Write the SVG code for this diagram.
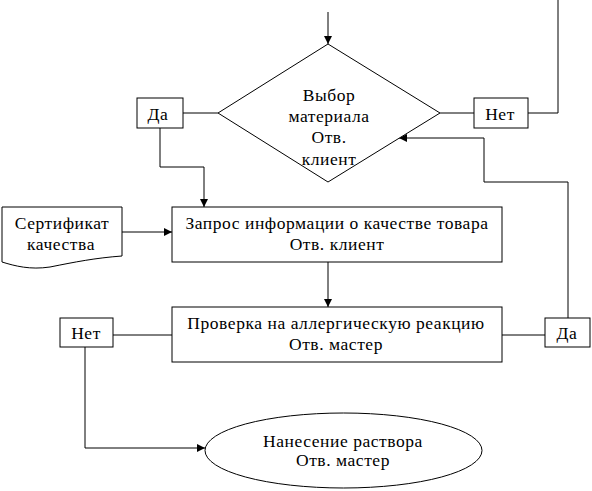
<svg xmlns="http://www.w3.org/2000/svg" width="592" height="491" viewBox="0 0 592 491">
<style>
.s{fill:#fff;stroke:#000;stroke-width:1}
.c{fill:none;stroke:#000;stroke-width:1}
text{font-family:"Liberation Serif","Times New Roman",serif;font-size:17.5px;letter-spacing:0.55px;fill:#000;text-anchor:middle}
</style>
<defs>
<marker id="a" viewBox="0 0 10 10" refX="10" refY="5" markerWidth="8" markerHeight="8" markerUnits="userSpaceOnUse" orient="auto">
<path d="M0,0 L10,5 L0,10 Z" fill="#000"/>
</marker>
</defs>
<rect width="592" height="491" fill="#fff"/>
<g id="connectors">
<path class="c" d="M328,12 V44" marker-end="url(#a)"/>
<path class="c" d="M183,113 H218"/>
<path class="c" d="M440,113 H474"/>
<path class="c" d="M528,113 H558 V0"/>
<path class="c" d="M160,128 V167 H204 V207" marker-end="url(#a)"/>
<path class="c" d="M122,232 H172" marker-end="url(#a)"/>
<path class="c" d="M328,262 V307" marker-end="url(#a)"/>
<path class="c" d="M113,335 H172"/>
<path class="c" d="M502,335 H545"/>
<path class="c" d="M568,318 V182 H484 V138 H399" marker-end="url(#a)"/>
<path class="c" d="M85,347 V448 H205" marker-end="url(#a)"/>
</g>
<g id="decision">
<polygon class="s" points="328,44 440,113 328,182 218,113"/>
<text x="329" y="101">Выбор</text>
<text x="329" y="122">материала</text>
<text x="329" y="143">Отв.</text>
<text x="329" y="165">клиент</text>
</g>
<g id="yes1">
<rect class="s" x="137" y="98" width="46" height="30"/>
<text x="158" y="120">Да</text>
</g>
<g id="no1">
<rect class="s" x="474" y="98" width="54" height="30"/>
<text x="500" y="120">Нет</text>
</g>
<g id="certificate">
<path class="s" d="M2,207 H122 V256 C95,258 75,262 50,267 C30,270 15,266 2,262 Z"/>
<text x="62" y="229">Сертификат</text>
<text x="61" y="250">качества</text>
</g>
<g id="request">
<rect class="s" x="172" y="207" width="330" height="55"/>
<text x="337" y="229">Запрос информации о качестве товара</text>
<text x="337" y="250">Отв. клиент</text>
</g>
<g id="check">
<rect class="s" x="172" y="307" width="330" height="55"/>
<text x="336" y="329">Проверка на аллергическую реакцию</text>
<text x="336" y="350">Отв. мастер</text>
</g>
<g id="no2">
<rect class="s" x="60" y="318" width="53" height="29"/>
<text x="86" y="339">Нет</text>
</g>
<g id="yes2">
<rect class="s" x="545" y="318" width="45" height="29"/>
<text x="567" y="339">Да</text>
</g>
<g id="apply">
<ellipse class="s" cx="343.5" cy="450.5" rx="138.5" ry="37.5"/>
<text x="343" y="447">Нанесение раствора</text>
<text x="343" y="466">Отв. мастер</text>
</g>
</svg>
